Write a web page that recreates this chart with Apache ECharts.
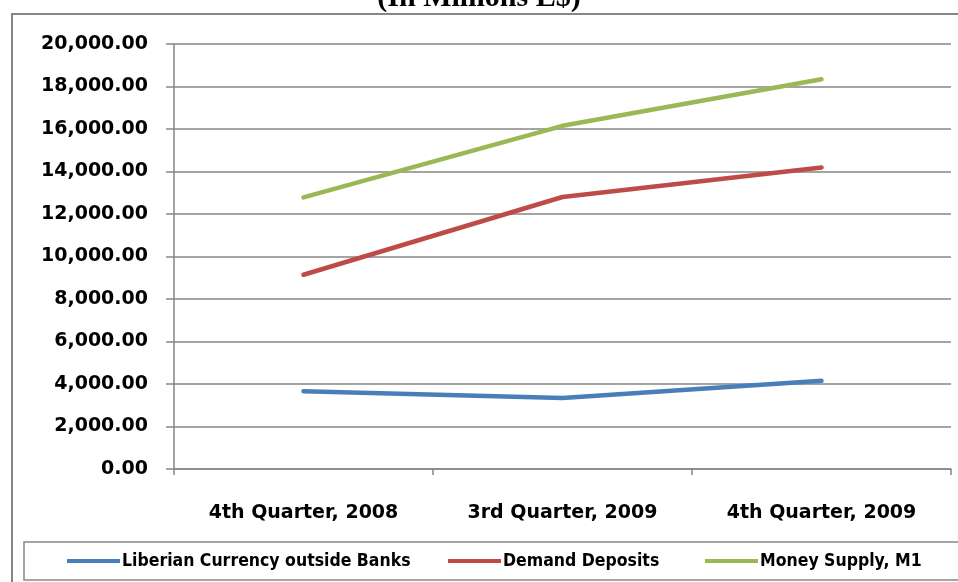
<!DOCTYPE html>
<html>
<head>
<meta charset="utf-8">
<script src="https://cdn.jsdelivr.net/npm/echarts@6/dist/echarts.min.js"></script>
<style>
  html, body { margin: 0; padding: 0; background: #fff; }
  #chart { width: 958px; height: 582px; }
</style>
</head>
<body>
<div id="chart"></div>
<script>
// Quarterly monetary aggregates, millions of L$
const quarters = ['4th Quarter, 2008', '3rd Quarter, 2009', '4th Quarter, 2009'];
const currencyOutsideBanks = [3660, 3340, 4150];
const demandDeposits = [9140, 12800, 14190];
const moneySupplyM1 = [12780, 16150, 18340];
const yTicks = { min: 0, max: 20000, step: 2000 };

const seriesNames = ['Liberian Currency outside Banks', 'Demand Deposits', 'Money Supply, M1'];
const seriesColors = ['#4a7ebb', '#be4b48', '#98b954'];
const seriesData = [currencyOutsideBanks, demandDeposits, moneySupplyM1];
const legendLefts = [67, 448, 705];

const axisGray = '#868686';
const labelFont = 'DejaVu Sans';

const chart = echarts.init(document.getElementById('chart'), null, { renderer: 'canvas' });

// one legend entry per component so each key sits at its own x position
const legends = seriesNames.map((name, i) => ({
  data: [name],
  left: legendLefts[i],
  top: 552,
  icon: 'rect',
  itemWidth: 53,
  itemHeight: 4,
  padding: 0,
  textStyle: {
    fontFamily: 'DejaVu Sans Condensed',
    fontWeight: 'bold',
    fontSize: 17.5,
    color: '#000',
    padding: [0, 0, 0, -3]
  }
}));

chart.setOption({
  backgroundColor: '#ffffff',
  animation: false,
  title: {
    text: '(In Millions L$)',
    left: 'center',
    top: -22,
    textStyle: {
      fontFamily: 'Liberation Serif',
      fontWeight: 'bold',
      fontSize: 30,
      color: '#000'
    }
  },
  graphic: [
    {
      type: 'rect',
      silent: true,
      shape: { x: 12, y: 14, width: 980, height: 600 },
      style: { fill: 'none', stroke: axisGray, lineWidth: 2 },
      z: 0
    },
    {
      type: 'rect',
      silent: true,
      shape: { x: 24, y: 542, width: 960, height: 38 },
      style: { fill: 'none', stroke: axisGray, lineWidth: 1.5 },
      z: 0
    }
  ],
  grid: {
    left: 174,
    right: 7,
    top: 44,
    bottom: 113,
    containLabel: false
  },
  legend: legends,
  xAxis: {
    type: 'category',
    data: quarters,
    boundaryGap: true,
    axisLine: { lineStyle: { color: axisGray, width: 1.5 } },
    axisTick: { show: true, length: 6, lineStyle: { color: axisGray, width: 1.5 } },
    axisLabel: {
      margin: 35,
      fontFamily: labelFont,
      fontWeight: 'bold',
      fontSize: 19,
      color: '#000'
    },
    splitLine: { show: false }
  },
  yAxis: {
    type: 'value',
    min: yTicks.min,
    max: yTicks.max,
    interval: yTicks.step,
    axisLine: { show: true, lineStyle: { color: axisGray, width: 1.5 } },
    axisTick: { show: true, length: 8, lineStyle: { color: axisGray, width: 1.5 } },
    axisLabel: {
      margin: 26,
      fontFamily: labelFont,
      fontWeight: 'bold',
      fontSize: 19,
      color: '#000',
      formatter: v => v.toLocaleString('en-US', { minimumFractionDigits: 2, maximumFractionDigits: 2 })
    },
    splitLine: { show: true, lineStyle: { color: axisGray, width: 1.5 } }
  },
  series: seriesNames.map((name, i) => ({
    name: name,
    type: 'line',
    data: seriesData[i],
    showSymbol: false,
    symbol: 'none',
    color: seriesColors[i],
    lineStyle: { color: seriesColors[i], width: 4.5, cap: 'round', join: 'round' },
    z: 3 + i
  }))
});
</script>
</body>
</html>
